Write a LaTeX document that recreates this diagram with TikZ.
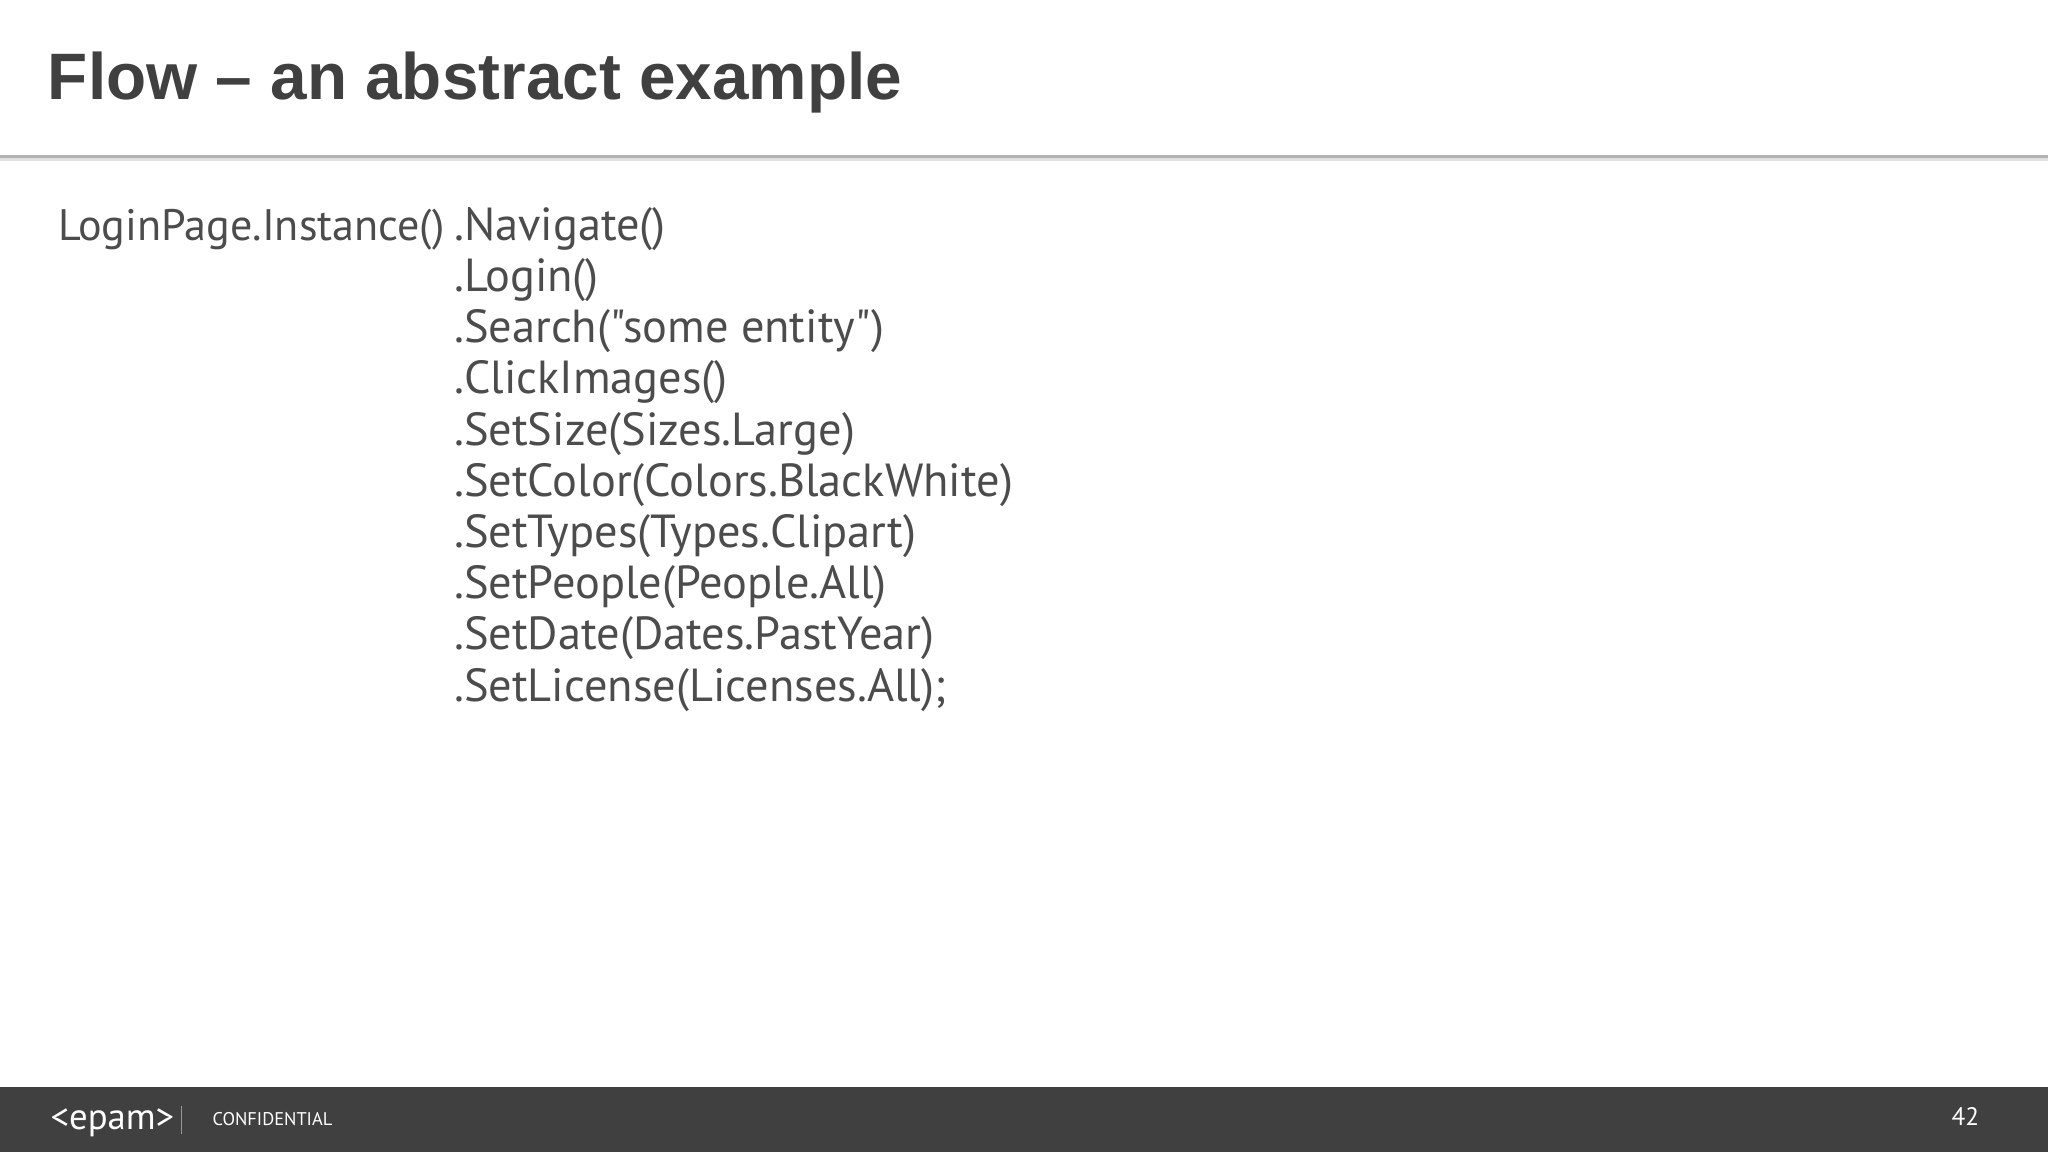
\documentclass[tikz,border=0pt]{standalone}
\usepackage{fontspec}
\setmainfont{PT Sans}
\newfontfamily\codefont{PT Sans}
\newfontfamily\titlefont{Liberation Sans}
\begin{document}
\begin{tikzpicture}[x=0.01cm,y=-0.01cm,
  code/.style={anchor=base west,inner sep=0,text=black!70,font=\codefont\fontsize{10.1}{12}\selectfont},
  foot/.style={text=white,inner sep=0}]
\useasboundingbox (0,0) rectangle (1568,882);
\fill[white] (0,0) rectangle (1568,882);
\node[anchor=base west,inner sep=0,text=black!75,font=\titlefont\bfseries\fontsize{14.3}{16}\selectfont] (title) at (36,76) {Flow – an abstract example};
\fill[black!12] (0,120) rectangle (1568,123);
\draw[black!30,line width=0.6pt] (0,120) -- (1568,120);
\node[code,anchor=base east,font=\codefont\fontsize{9.6}{12}\selectfont] (l0) at (341,184) {LoginPage.Instance()};
\foreach \t [count=\i from 0] in {.Navigate(),.Login(),.Search("some entity"),.ClickImages(),.SetSize(Sizes.Large),.SetColor(Colors.BlackWhite),.SetTypes(Types.Clipart),.SetPeople(People.All),.SetDate(Dates.PastYear),.SetLicense(Licenses.All);}
  \node[code] (m\i) at (347,184+39.2*\i) {\t};
\fill[black!75] (0,832) rectangle (1568,882);
\node[foot,anchor=base west,font=\fontsize{8}{10}\selectfont] (logo) at (38,865) {<epam>};
\draw[white!60!black,line width=0.4pt] (139,847) -- (139,868);
\node[foot,anchor=base west,font=\fontsize{4}{5}\selectfont] (conf) at (162,862) {CONFIDENTIAL};
\node[foot,anchor=base east,font=\fontsize{5.5}{6}\selectfont] (num) at (1516,862) {42};
\end{tikzpicture}
\end{document}
